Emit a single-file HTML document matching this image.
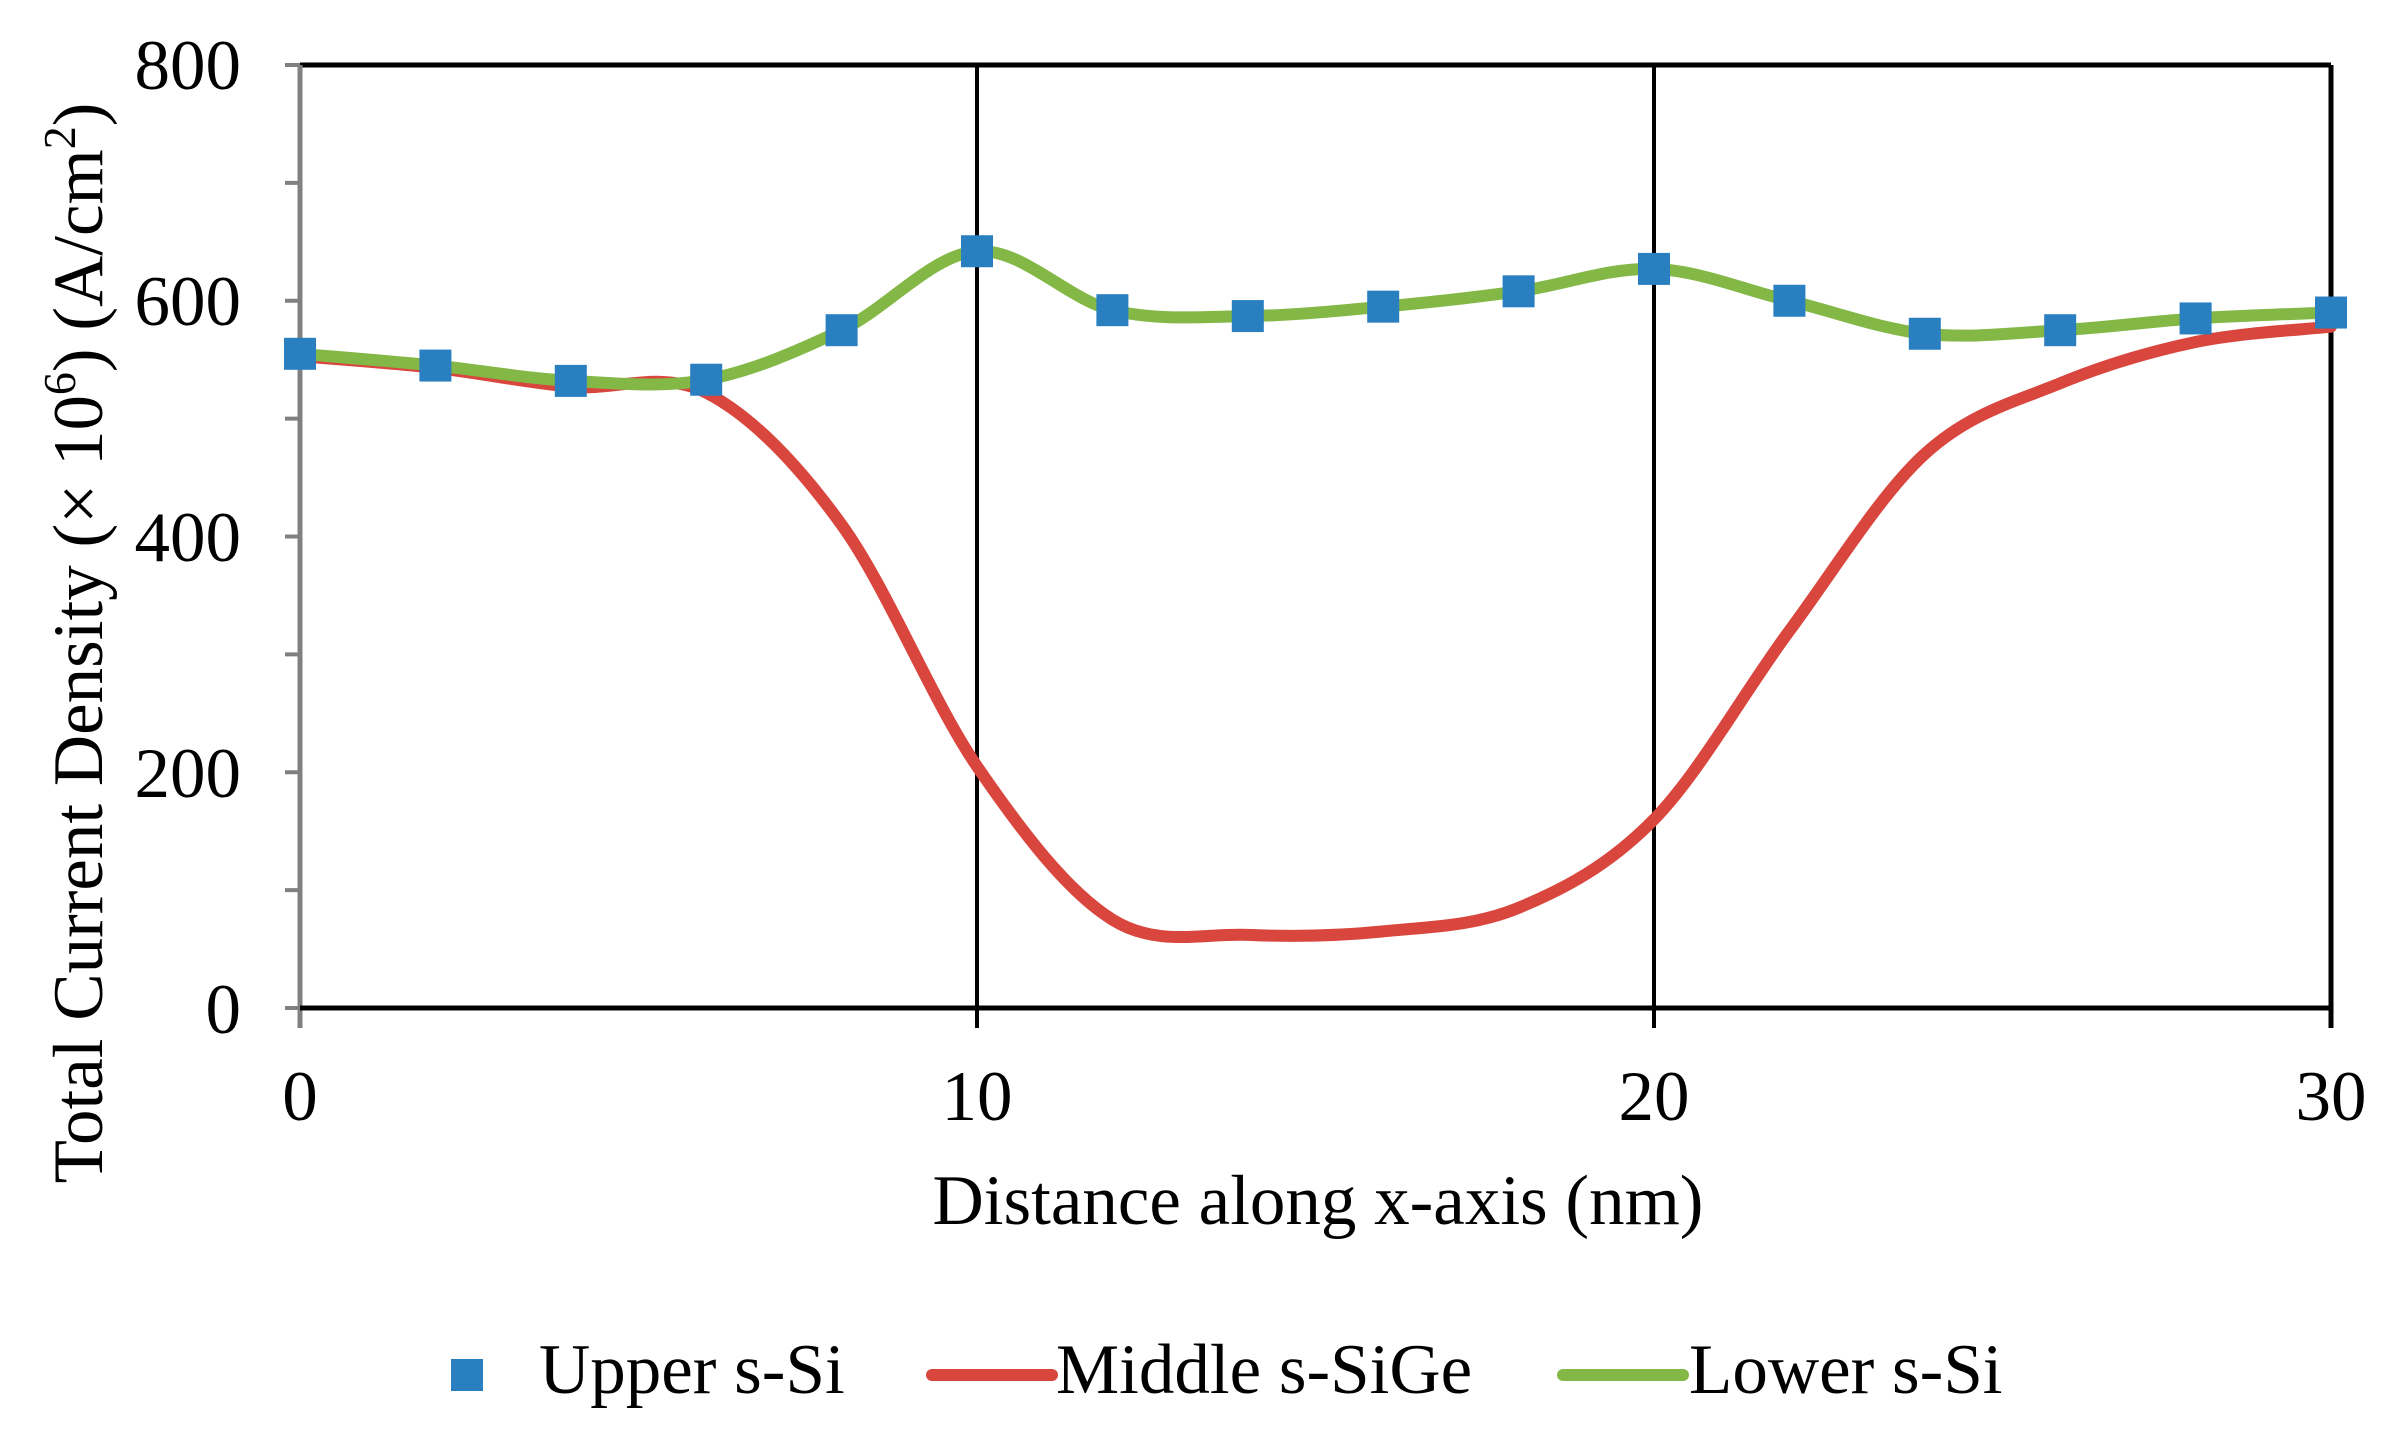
<!DOCTYPE html>
<html><head><meta charset="utf-8"><style>
html,body{margin:0;padding:0;background:#fff;}
svg{display:block;}
text{font-family:"Liberation Serif",serif;fill:#000;}
</style></head><body>
<svg id="s" width="2400" height="1429" viewBox="0 0 2400 1429" xmlns="http://www.w3.org/2000/svg">
<rect width="2400" height="1429" fill="#fff"/>
<g id="minor" stroke="#808080" stroke-width="4"></g>
<line x1="300" y1="65" x2="2331" y2="65" stroke="#000" stroke-width="5"/>
<line x1="2331" y1="65" x2="2331" y2="1028" stroke="#000" stroke-width="5"/>
<line x1="977" y1="65" x2="977" y2="1028" stroke="#000" stroke-width="4"/>
<line x1="1654" y1="65" x2="1654" y2="1028" stroke="#000" stroke-width="4"/>
<line x1="300" y1="65" x2="300" y2="1028" stroke="#808080" stroke-width="5"/>
<line x1="300" y1="1008" x2="2331" y2="1008" stroke="#000" stroke-width="5"/>
<path id="red" fill="none" stroke="#d9463e" stroke-width="12" stroke-linecap="round" stroke-linejoin="round"/>
<path id="green" fill="none" stroke="#83b847" stroke-width="12" stroke-linecap="round" stroke-linejoin="round"/>
<g id="marks" fill="#2a7fc1"></g>
<g font-size="71" text-anchor="end">
<text x="241" y="89">800</text>
<text x="241" y="325">600</text>
<text x="241" y="561">400</text>
<text x="241" y="797">200</text>
<text x="241" y="1033">0</text>
</g>
<g font-size="71" text-anchor="middle">
<text x="300" y="1120">0</text>
<text x="977" y="1120">10</text>
<text x="1654" y="1120">20</text>
<text x="2331" y="1120">30</text>
</g>
<text x="1318" y="1224" font-size="71" text-anchor="middle">Distance along x-axis (nm)</text>
<text transform="translate(102,643) rotate(-90)" font-size="71" text-anchor="middle">Total Current Density (× 10<tspan font-size="46" dy="-27">6</tspan><tspan dy="27">) (A/cm</tspan><tspan font-size="46" dy="-27">2</tspan><tspan dy="27">)</tspan></text>
<rect x="451" y="1359" width="32" height="32" fill="#2a7fc1"/>
<text x="539" y="1393" font-size="71">Upper s-Si</text>
<line x1="932" y1="1375" x2="1052" y2="1375" stroke="#d9463e" stroke-width="12" stroke-linecap="round"/>
<text x="1056" y="1393" font-size="71">Middle s-SiGe</text>
<line x1="1563" y1="1375" x2="1683" y2="1375" stroke="#83b847" stroke-width="12" stroke-linecap="round"/>
<text x="1689" y="1393" font-size="71">Lower s-Si</text>
</svg>
<script>
var X=function(v){return 300+v*67.7;},Y=function(v){return 1008-v*1.17875;};
var g=[555,545,532,533,575,642,592,587,595,608,627,600,572,575,585,590];
var r=[553,543,527,522,410,205,75,62,65,85,160,320,470,530,565,578];
function path(a){var p=a.map(function(v,i){return [X(i*2),Y(v)];});var d="M"+p[0][0]+","+p[0][1];
for(var i=0;i<p.length-1;i++){var p0=p[i-1]||p[i],p1=p[i],p2=p[i+1],p3=p[i+2]||p2;
var c1=[p1[0]+(p2[0]-p0[0])/6,p1[1]+(p2[1]-p0[1])/6],c2=[p2[0]-(p3[0]-p1[0])/6,p2[1]-(p3[1]-p1[1])/6];
d+=" C"+c1+" "+c2+" "+p2;}return d;}
document.getElementById("red").setAttribute("d",path(r));
document.getElementById("green").setAttribute("d",path(g));
var m="";g.forEach(function(v,i){m+='<rect x="'+(X(i*2)-16)+'" y="'+(Y(v)-16)+'" width="32" height="32"/>';});
document.getElementById("marks").innerHTML=m;
var t="";for(var k=0;k<=8;k++){var y=Y(k*100);t+='<line x1="285" y1="'+y+'" x2="300" y2="'+y+'"/>';}
for(var k=0;k<=3;k++){t+='<line x1="'+X(k*10)+'" y1="1008" x2="'+X(k*10)+'" y2="1028" stroke="#000"/>';}
document.getElementById("minor").innerHTML=t;
</script>
</body></html>
